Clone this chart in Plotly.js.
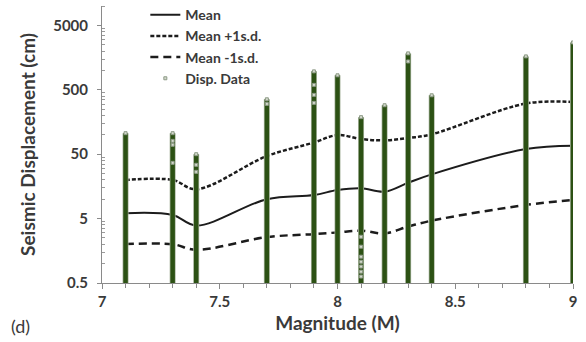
<!DOCTYPE html>
<html>
<head>
<meta charset="utf-8">
<script src="https://cdn.plot.ly/plotly-3.0.1.min.js"></script>
<style>html,body{margin:0;padding:0;background:#fff;}#chart{width:586px;height:342px;}</style>
</head>
<body>
<div id="chart"></div>
<script>
// Magnitudes with recorded data
const mags = [7.1, 7.3, 7.4, 7.7, 7.9, 8.0, 8.1, 8.2, 8.3, 8.4, 8.8, 9.0];
// Statistics of seismic displacement (cm)
const meanDisp = [6.06, 5.7, 3.9, 10.0, 11.6, 13.9, 14.8, 13.1, 18.0, 24.3, 60, 67.5];
const plusSd   = [19.9, 19.9, 14.3, 46.7, 76, 99, 86, 82, 89, 102, 306, 323];
const minusSd  = [2.01, 2.0, 1.64, 2.58, 2.87, 3.05, 3.25, 2.95, 3.76, 4.65, 8.15, 9.7];
// Range of displacement data at each magnitude
const dispMin = [0.5, 0.5, 0.5, 0.5, 0.5, 0.5, 0.5, 0.5, 0.5, 0.5, 0.5, 0.5];
const dispMax = [106, 106, 50, 356, 966, 839, 188, 288, 1837, 411, 1650, 2717];
// Individual displacement data points that stand out
const dataMag = [7.1, 7.3, 7.3, 7.3, 7.3, 7.4, 7.4, 7.4,
  7.7, 7.7, 7.9, 7.9, 7.9, 7.9, 8.0,
  8.1, 8.1, 8.1, 8.1, 8.1, 8.1, 8.1, 8.1,
  8.2, 8.3, 8.3, 8.4, 8.8, 9.0];
const dataDisp = [106, 106, 80.5, 70, 36.7, 50, 34.2, 26.6,
  356, 302, 966, 596, 417, 313, 839,
  188, 2.61, 1.83, 1.28, 1.07, 0.9, 0.75, 0.63,
  288, 1837, 1377, 411, 1650, 2717];
// Axis ticks
const xTickVals = [7, 7.5, 8, 8.5, 9];
const xTickText = ['7', '7.5', '8', '8.5', '9'];
const yTickVals = [0.5, 5, 50, 500, 5000];
const yTickText = ['0.5', '5', '50', '500', '5000'];

// minor log ticks (0.5 * k * 10^n)
const yMinor = [];
for (const base of yTickVals) { for (let k = 2; k <= 9; k++) yMinor.push(base * k); }

// build column segments
const colX = [], colY = [];
mags.forEach((m, i) => { colX.push(m, m, null); colY.push(dispMin[i], dispMax[i], null); });

const green = '#2c5114';
const txt = '#3a3a3a';
const font = 'Lato, "Open Sans", sans-serif';

const traces = [
  {x: mags, y: meanDisp, name: 'Mean', mode: 'lines', line: {color: '#1c1c1c', width: 2, shape: 'spline'}},
  {x: mags, y: plusSd, name: 'Mean +1s.d.', mode: 'lines', line: {color: '#1c1c1c', width: 2.5, dash: '4px,2px', shape: 'spline'}},
  {x: mags, y: minusSd, name: 'Mean -1s.d.', mode: 'lines', line: {color: '#1c1c1c', width: 2.5, dash: '8px,5px', shape: 'spline'}},
  {x: colX, y: colY, mode: 'lines', showlegend: false, hoverinfo: 'skip', line: {color: '#a9b59f', width: 6}},
  {x: colX, y: colY, mode: 'lines', showlegend: false, hoverinfo: 'skip', line: {color: green, width: 4.5}},
  {x: dataMag, y: dataDisp, name: 'Disp. Data', mode: 'markers', cliponaxis: true,
   marker: {symbol: 'square', size: 3, color: '#d3d9cc', line: {color: '#8d9a86', width: 1}}}
];

const layout = {
  width: 586, height: 342,
  margin: {l: 102, r: 13, t: 6, b: 59, autoexpand: false},
  paper_bgcolor: '#fff', plot_bgcolor: '#fff',
  font: {family: font, color: txt},
  showlegend: true,
  legend: {x: 0.092, y: 1.025, xanchor: 'left', yanchor: 'top', bgcolor: 'rgba(0,0,0,0)',
           font: {family: font, size: 14, color: txt, weight: 'bold'}, tracegroupgap: 0},
  xaxis: {
    range: [7, 9], tickmode: 'array', tickvals: xTickVals, ticktext: xTickText,
    showgrid: false, zeroline: false, showline: true, linecolor: '#8a8a8a', linewidth: 1,
    ticks: 'outside', ticklen: 5, tickcolor: '#8a8a8a',
    minor: {dtick: 0.1, tick0: 7, ticks: 'outside', ticklen: 4, tickcolor: '#8a8a8a', showgrid: false},
    tickfont: {family: font, size: 15, color: txt, weight: 'bold'},
    title: {text: 'Magnitude (M)', font: {family: font, size: 19, color: txt, weight: 'bold'}, standoff: 7}
  },
  yaxis: {
    type: 'log', range: [Math.log10(0.5), 4], tickmode: 'array', tickvals: yTickVals, ticktext: yTickText,
    showgrid: false, zeroline: false, showline: true, linecolor: '#8a8a8a', linewidth: 1,
    ticks: 'outside', ticklen: 4, tickcolor: '#8a8a8a', ticklabelstandoff: 6,
    minor: {tickmode: 'array', tickvals: yMinor, ticks: 'inside', ticklen: 3, tickcolor: '#9a9a9a', showgrid: false},
    tickfont: {family: font, size: 15, color: txt, weight: 'bold'},
    title: {text: 'Seismic Displacement (cm)', font: {family: font, size: 19, color: txt, weight: 'bold'}, standoff: 12}
  },
  annotations: [
    {text: '(d)', xref: 'paper', yref: 'paper', x: -0.197, y: -0.154, xanchor: 'left', yanchor: 'middle',
     showarrow: false, font: {family: font, size: 18, color: txt}}
  ]
};

Plotly.newPlot('chart', traces, layout, {displayModeBar: false, staticPlot: true});
</script>
</body>
</html>
